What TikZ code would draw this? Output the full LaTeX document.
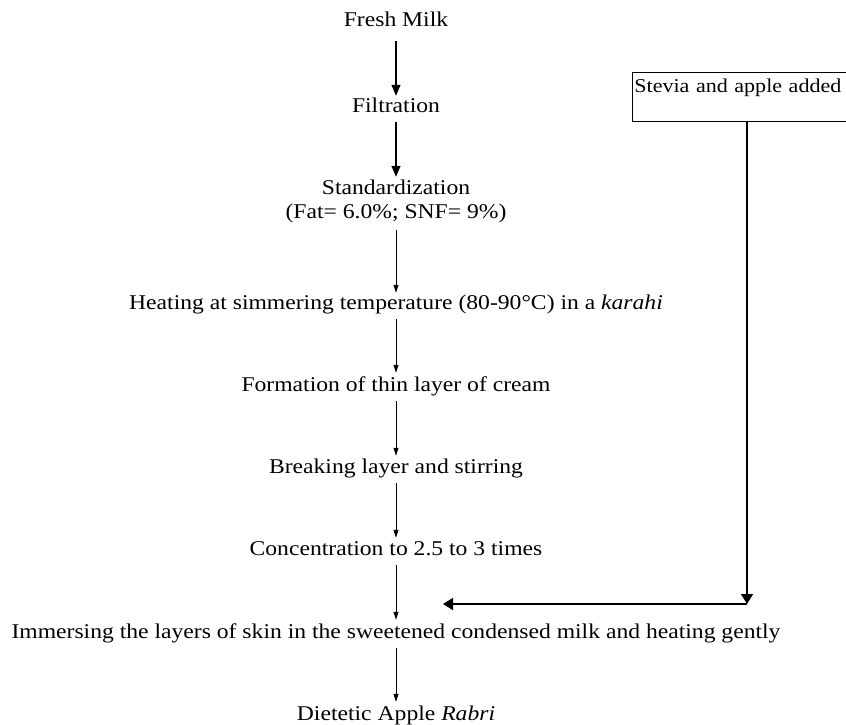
\documentclass[tikz,border=0pt]{standalone}
\usepackage{fontspec}
\setmainfont{Liberation Serif}[FakeStretch=1.125]
\usetikzlibrary{arrows.meta}
\begin{document}
\begin{tikzpicture}[x=1pt,y=-1pt,
  lbl/.style={font=\fontsize{21}{24}\selectfont, inner xsep=0pt, inner ysep=6pt, text height=14pt, text depth=4pt, anchor=base},
  thinarr/.style={line width=0.8pt, -{Triangle[length=8pt,width=5pt]}},
  thickarr/.style={line width=1.3pt, -{Triangle[length=11pt,width=9pt]}},
  boxarr/.style={line width=1.6pt, -{Triangle[length=10pt,width=12pt]}}
]
\useasboundingbox (0,0) rectangle (846,724);
\clip (0,0) rectangle (846,724);
\fill[white] (0,0) rectangle (846,724);

\node[lbl] (fresh) at (396,26) {Fresh Milk};
\node[lbl] (filt) at (396,112) {Filtration};
\node[lbl] (std) at (396,194) {Standardization};
\node[lbl] (fat) at (396,218) {(Fat= 6.0\%; SNF= 9\%)};
\node[lbl] (heat) at (396,309) {Heating at simmering temperature (80-90°C) in a \textit{karahi}};
\node[lbl] (form) at (396,391) {Formation of thin layer of cream};
\node[lbl] (brk) at (396,473) {Breaking layer and stirring};
\node[lbl] (conc) at (396,555) {Concentration to 2.5 to 3 times};
\node[lbl] (imm) at (396,638) {Immersing the layers of skin in the sweetened condensed milk and heating gently};
\node[lbl] (diet) at (396,720) {Dietetic Apple \textit{Rabri}};

\node[draw, line width=0.8pt, anchor=north west, font=\fontsize{19.6}{22}\selectfont,
  inner xsep=2pt, inner ysep=6pt, text height=14pt, text depth=23pt,
  text width=300pt, align=left] (box) at (632,72) {Stevia and apple added};

\coordinate (corner) at (747,604);
\coordinate (tipc) at (443,604);

\draw[thickarr] ([yshift=-5pt]fresh.south) -- ([yshift=-4pt]filt.north);
\draw[thickarr] (filt.south) -- ([yshift=-3pt]std.north);
\draw[thinarr] ([yshift=-2pt]fat.south) -- ([yshift=-4pt]heat.north);
\draw[thinarr] (heat.south) -- ([yshift=-2pt]form.north);
\draw[thinarr] (form.south) -- ([yshift=-3pt]brk.north);
\draw[thinarr] (brk.south) -- ([yshift=-3pt]conc.north);
\draw[thinarr] (conc.south) -- ([yshift=-2pt]imm.north);
\draw[thinarr] (imm.south) -- ([yshift=-2pt]diet.north);

\draw[boxarr] (box.south -| corner) -- (corner);
\draw[boxarr] (corner) -- (tipc);
\end{tikzpicture}
\end{document}
